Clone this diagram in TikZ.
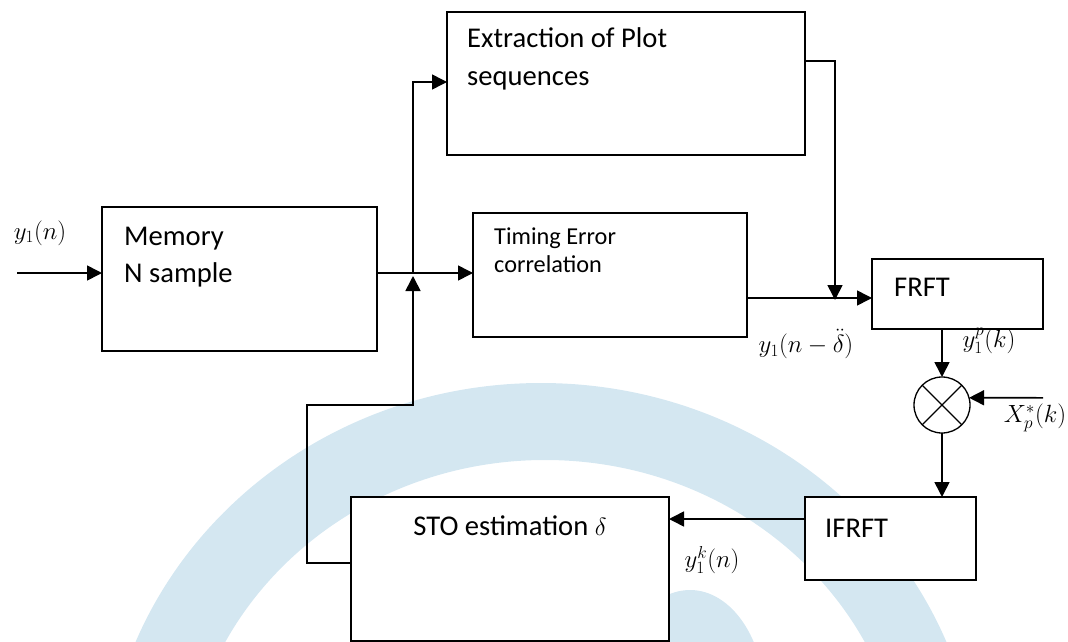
\documentclass[tikz,border=0pt]{standalone}
\usepackage{amsmath}
\usepackage{fontspec}
\setmainfont{Carlito}
\usetikzlibrary{arrows.meta}
\definecolor{wmblue}{HTML}{D4E7F1}
\begin{document}
\begin{tikzpicture}[x=1pt,y=-1pt,
  box/.style={draw, line width=1.6pt, fill=white, inner sep=0pt, outer sep=0pt},
  conn/.style={line width=1.6pt},
  arr/.style={conn, -{Triangle[length=15pt,width=15pt]}},
  txt/.style={anchor=base west, inner sep=0pt, font=\fontsize{28.6}{34}\selectfont},
  smalltxt/.style={anchor=base west, inner sep=0pt, font=\fontsize{24.3}{28}\selectfont},
  lbl/.style={inner sep=0pt, font=\fontsize{23}{26}\selectfont}]
\useasboundingbox (0,0) rectangle (1068,642);
% watermark
\begin{scope}
  \clip (0,0) rectangle (1068,642);
  \fill[wmblue, even odd rule] (541,800) ellipse [x radius=438, y radius=417]
                               (545,800) ellipse [x radius=361, y radius=340];
  \fill[wmblue] (690,700) ellipse [x radius=75, y radius=110];
\end{scope}
% boxes
\node[box, minimum width=275pt, minimum height=144pt] (mem) at (239.5,279) {};
\node[box, minimum width=358pt, minimum height=143pt] (ext) at (626,83.5) {};
\node[box, minimum width=274pt, minimum height=124pt] (tim) at (610,275) {};
\node[box, minimum width=171pt, minimum height=70pt] (frft) at (957.5,294) {};
\node[box, minimum width=171pt, minimum height=83pt] (ifrft) at (890.5,538.5) {};
\node[box, minimum width=318pt, minimum height=144pt] (sto) at (510,569) {};
\node[draw, line width=1.3pt, fill=white, circle, minimum size=56pt, inner sep=0pt, outer sep=0pt] (mult) at (942,405) {};
\draw[line width=1.1pt] (mult.45) -- (mult.225) (mult.135) -- (mult.315);
% texts
\node[txt] (memA) at (124,245) {Memory};
\node[txt] (memB) at (124,282) {N sample};
\node[txt] (extA) at (467,48) {Extraction of Plot};
\node[txt] (extB) at (467,85) {sequences};
\node[smalltxt] (timA) at (494,244) {Timing Error};
\node[smalltxt] (timB) at (494,272) {correlation};
\node[anchor=base, inner sep=0pt, font=\fontsize{28.6}{34}\selectfont] (stoT) at (510,535) {STO estimation $\delta$};
\node[txt] (frftT) at (894,296) {FRFT};
\node[txt] (ifrftT) at (825,537) {IFRFT};
% labels
\node[lbl] (l1) at (40,233) {$y_1(n)$};
\node[lbl] (l2) at (806,344) {$y_1(n-\ddot{\delta})$};
\node[lbl] (l3) at (989,341) {$y_1^{p}(k)$};
\node[lbl] (l4) at (1035,418) {$X_p^{*}(k)$};
\node[lbl] (l5) at (712,560) {$y_1^{k}(n)$};
% coordinates
\coordinate (in) at (17,273);
\coordinate (j) at (413,273);
\coordinate (fb1) at (307,563);
\coordinate (fb2) at (307,405);
\coordinate (fb3) at (413,405);
\coordinate (e1) at (835,61);
\coordinate (e2) at (835,298);
\coordinate (xin) at (1043,397.8);
\coordinate (i1) at (805,519);
% connectors
\draw[arr] (in) -- (in -| mem.west);
\draw[conn] (mem.east |- j) -- (j);
\draw[arr] (j) -- (tim.west |- j);
\draw[arr] (j) |- (ext.west |- 0,82);
\draw[arr] (sto.west |- fb1) -- (fb1) -- (fb2) -- (fb3) -- ([yshift=-3pt]j);
\draw[arr] (ext.east |- e1) -- (e1) -- ([yshift=-2pt]e2);
\draw[arr] (tim.east |- e2) -- (frft.west |- e2);
\draw[arr] (mult.north |- frft.south) -- (mult.north);
\draw[arr] (xin) -- (mult.15);
\draw[arr] (mult.south) -- (mult.south |- ifrft.north);
\draw[arr] (i1) -- (i1 -| sto.east);
\end{tikzpicture}
\end{document}
